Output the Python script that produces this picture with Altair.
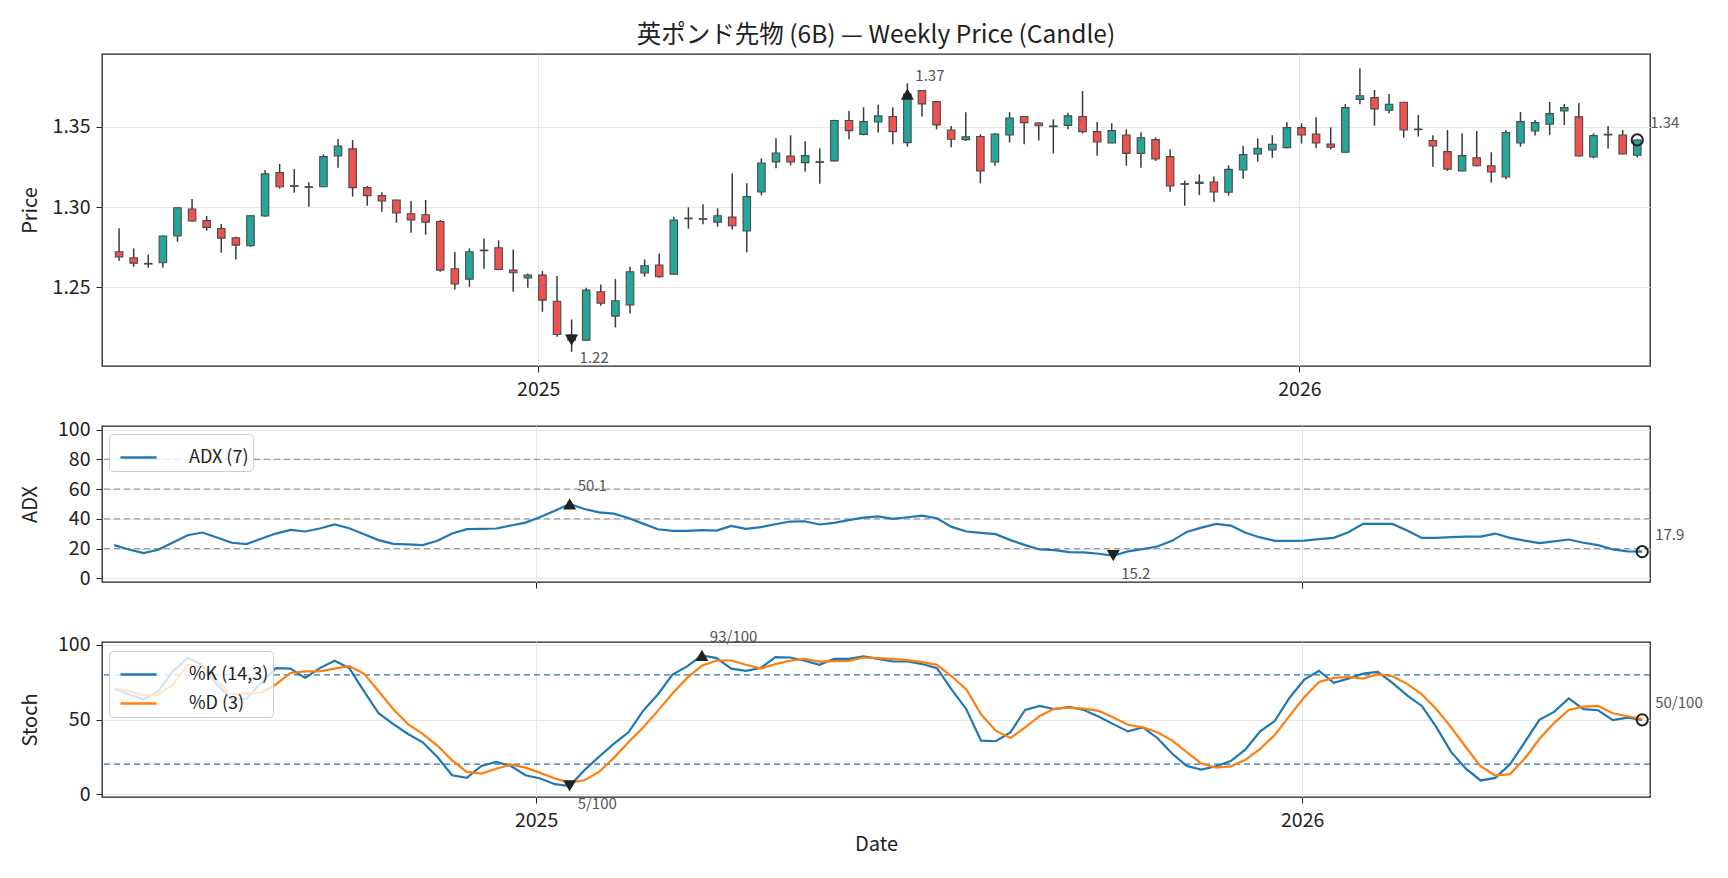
import altair as alt
import pandas as pd
import numpy as np

FONT = "Noto Sans CJK JP"

# ---------------- data ----------------
start_date = "2024-06-14"
n_weeks = 105

opens = [
    1.2721, 1.2683, 1.2648, 1.2652, 1.2819, 1.2988, 1.2915, 1.2865, 1.2808, 1.2758,
    1.2944, 1.3215, 1.3133, 1.3127, 1.3127, 1.3319, 1.3363, 1.3121, 1.3071, 1.3044,
    1.2958, 1.2952, 1.2910, 1.2615, 1.2550, 1.2727, 1.2746, 1.2606, 1.2558, 1.2575,
    1.2412, 1.2200, 1.2169, 1.2471, 1.2319, 1.2388, 1.2588, 1.2638, 1.2581, 1.2927,
    1.2923, 1.2906, 1.2937, 1.2850, 1.3094, 1.3281, 1.3319, 1.3277, 1.3279, 1.3288,
    1.3540, 1.3454, 1.3531, 1.3565, 1.3402, 1.3727, 1.3658, 1.3481, 1.3421, 1.3440,
    1.3281, 1.3450, 1.3565, 1.3525, 1.3506, 1.3510, 1.3565, 1.3471, 1.3400, 1.3450,
    1.3335, 1.3421, 1.3315, 1.3146, 1.3148, 1.3156, 1.3092, 1.3231, 1.3331, 1.3356,
    1.3371, 1.3496, 1.3456, 1.3394, 1.3342, 1.3672, 1.3683, 1.3604, 1.3654, 1.3487,
    1.3415, 1.3346, 1.3225, 1.3308, 1.3258, 1.3188, 1.3400, 1.3475, 1.3517, 1.3600,
    1.3563, 1.3313, 1.3454, 1.3450, 1.3323,
]
highs = [
    1.2867, 1.2742, 1.2704, 1.2823, 1.2998, 1.3050, 1.2944, 1.2894, 1.2815, 1.2950,
    1.3229, 1.3269, 1.3237, 1.3154, 1.3329, 1.3425, 1.3419, 1.3131, 1.3092, 1.3046,
    1.3038, 1.3044, 1.2919, 1.2719, 1.2742, 1.2804, 1.2792, 1.2735, 1.2585, 1.2600,
    1.2569, 1.2298, 1.2496, 1.2517, 1.2550, 1.2627, 1.2673, 1.2710, 1.2940, 1.2998,
    1.3017, 1.2992, 1.3210, 1.3148, 1.3304, 1.3429, 1.3448, 1.3410, 1.3367, 1.3545,
    1.3600, 1.3623, 1.3638, 1.3623, 1.3773, 1.3730, 1.3660, 1.3506, 1.3592, 1.3454,
    1.3460, 1.3592, 1.3567, 1.3529, 1.3548, 1.3588, 1.3725, 1.3531, 1.3523, 1.3485,
    1.3467, 1.3435, 1.3360, 1.3165, 1.3204, 1.3190, 1.3260, 1.3381, 1.3429, 1.3448,
    1.3529, 1.3523, 1.3560, 1.3498, 1.3642, 1.3867, 1.3731, 1.3706, 1.3656, 1.3575,
    1.3448, 1.3481, 1.3460, 1.3475, 1.3342, 1.3481, 1.3594, 1.3544, 1.3656, 1.3642,
    1.3650, 1.3460, 1.3506, 1.3481, 1.3425,
]
lows = [
    1.2665, 1.2627, 1.2621, 1.2621, 1.2783, 1.2908, 1.2852, 1.2715, 1.2673, 1.2752,
    1.2940, 1.3115, 1.3090, 1.3002, 1.3125, 1.3246, 1.3065, 1.3008, 1.2971, 1.2902,
    1.2840, 1.2827, 1.2596, 1.2485, 1.2502, 1.2615, 1.2606, 1.2471, 1.2496, 1.2346,
    1.2190, 1.2096, 1.2163, 1.2383, 1.2248, 1.2335, 1.2565, 1.2558, 1.2578, 1.2865,
    1.2892, 1.2877, 1.2860, 1.2717, 1.3073, 1.3242, 1.3260, 1.3221, 1.3146, 1.3285,
    1.3423, 1.3448, 1.3465, 1.3392, 1.3377, 1.3565, 1.3485, 1.3373, 1.3413, 1.3148,
    1.3258, 1.3404, 1.3392, 1.3415, 1.3335, 1.3485, 1.3460, 1.3321, 1.3398, 1.3258,
    1.3246, 1.3288, 1.3096, 1.3008, 1.3075, 1.3031, 1.3071, 1.3177, 1.3283, 1.3308,
    1.3367, 1.3396, 1.3367, 1.3360, 1.3340, 1.3642, 1.3508, 1.3585, 1.3433, 1.3440,
    1.3252, 1.3225, 1.3223, 1.3254, 1.3152, 1.3173, 1.3377, 1.3446, 1.3450, 1.3512,
    1.3317, 1.3304, 1.3365, 1.3329, 1.3310,
]
closes = [
    1.2688, 1.2650, 1.2644, 1.2819, 1.2996, 1.2913, 1.2873, 1.2806, 1.2762, 1.2946,
    1.3208, 1.3127, 1.3129, 1.3123, 1.3315, 1.3381, 1.3121, 1.3071, 1.3038, 1.2963,
    1.2919, 1.2906, 1.2606, 1.2519, 1.2721, 1.2731, 1.2610, 1.2590, 1.2575, 1.2419,
    1.2204, 1.2169, 1.2481, 1.2400, 1.2415, 1.2596, 1.2633, 1.2565, 1.2919, 1.2931,
    1.2927, 1.2946, 1.2883, 1.3065, 1.3275, 1.3337, 1.3281, 1.3321, 1.3283, 1.3540,
    1.3477, 1.3533, 1.3569, 1.3471, 1.3705, 1.3644, 1.3513, 1.3423, 1.3438, 1.3225,
    1.3456, 1.3556, 1.3527, 1.3508, 1.3502, 1.3569, 1.3471, 1.3406, 1.3477, 1.3335,
    1.3433, 1.3300, 1.3131, 1.3142, 1.3156, 1.3094, 1.3235, 1.3327, 1.3367, 1.3392,
    1.3496, 1.3450, 1.3400, 1.3373, 1.3621, 1.3695, 1.3613, 1.3642, 1.3481, 1.3483,
    1.3381, 1.3237, 1.3321, 1.3258, 1.3219, 1.3465, 1.3533, 1.3527, 1.3583, 1.3621,
    1.3319, 1.3446, 1.3450, 1.3331, 1.3419,
]
adx_values = [
    22.3, 19.4, 16.9, 19.2, 24.1, 29.0, 30.8, 27.5, 23.9, 23.0,
    26.6, 30.1, 32.6, 31.5, 33.5, 36.2, 33.7, 29.7, 25.7, 23.2,
    22.8, 22.3, 25.2, 30.1, 33.1, 33.3, 33.5, 35.5, 37.5, 41.3,
    45.5, 50.1, 46.6, 44.4, 43.5, 40.6, 36.8, 33.0, 31.9, 31.9,
    32.4, 32.1, 35.3, 33.3, 34.4, 36.4, 38.2, 38.4, 36.2, 37.3,
    39.1, 40.8, 41.7, 40.0, 41.1, 42.2, 40.4, 34.6, 31.5, 30.6,
    29.7, 25.7, 22.3, 19.4, 19.0, 17.6, 17.4, 16.5, 15.2, 18.1,
    19.6, 21.4, 25.2, 31.2, 34.1, 36.6, 35.5, 30.6, 27.5, 25.2,
    25.2, 25.4, 26.3, 27.2, 31.0, 36.6, 36.6, 36.6, 32.1, 27.2,
    27.2, 27.7, 28.1, 28.1, 30.1, 27.2, 25.4, 23.7, 24.8, 26.1,
    23.9, 22.3, 19.4, 18.1, 17.9,
]
stoch_k = [
    70.6, 66.8, 63.5, 69.0, 82.3, 91.2, 86.7, 73.5, 63.5, 63.9,
    74.6, 84.5, 84.1, 77.9, 84.5, 89.4, 84.5, 69.0, 54.2, 46.9,
    40.3, 34.7, 24.8, 12.6, 10.8, 18.8, 21.5, 18.8, 12.6, 10.4,
    6.6, 5.4, 16.0, 25.0, 33.6, 41.4, 55.8, 66.8, 80.1, 85.6,
    93.0, 91.2, 84.1, 82.7, 84.5, 91.8, 91.6, 89.4, 86.7, 90.7,
    90.7, 92.4, 90.7, 88.9, 88.9, 87.2, 84.5, 70.1, 56.9, 35.8,
    35.4, 41.4, 56.4, 59.1, 56.9, 58.4, 56.4, 52.0, 46.9, 42.0,
    44.7, 37.6, 27.2, 18.8, 16.4, 18.6, 22.1, 29.9, 42.0, 49.1,
    64.6, 76.8, 82.7, 74.6, 77.4, 80.8, 81.9, 74.6, 66.2, 59.1,
    44.7, 28.1, 17.0, 9.1, 10.8, 19.9, 34.7, 49.8, 55.1, 64.2,
    56.9, 56.2, 49.6, 51.3, 49.8,
]
stoch_d = [
    70.8, 69.0, 66.2, 66.8, 73.5, 86.7, 85.2, 75.7, 66.8, 67.3,
    67.9, 73.5, 81.2, 82.3, 82.3, 84.1, 85.8, 80.8, 69.0, 56.9,
    46.9, 40.3, 32.5, 22.6, 14.8, 13.7, 17.0, 19.7, 17.7, 14.2,
    10.4, 7.7, 9.2, 14.8, 24.1, 34.7, 44.7, 55.8, 67.5, 77.9,
    86.1, 89.6, 89.6, 86.7, 84.1, 87.2, 89.4, 90.7, 88.9, 89.2,
    89.4, 91.6, 91.2, 90.7, 89.8, 88.5, 86.7, 79.0, 70.1, 53.5,
    42.5, 37.6, 44.7, 52.4, 57.3, 58.0, 57.3, 55.8, 51.3, 46.5,
    44.7, 41.4, 36.0, 28.1, 20.4, 17.7, 18.6, 23.0, 30.3, 39.8,
    52.4, 65.0, 75.2, 77.9, 78.5, 77.4, 80.5, 79.0, 73.9, 66.8,
    56.9, 44.7, 31.4, 18.6, 12.4, 13.3, 23.7, 36.9, 47.6, 56.4,
    58.6, 59.1, 54.2, 52.2, 50.2,
]
price_ticks = [1.25, 1.30, 1.35]
adx_ticks = [0, 20, 40, 60, 80, 100]
adx_levels = [20, 40, 60, 80]
stoch_ticks = [0, 50, 100]
stoch_levels = [20, 80]
title_text = "英ポンド先物 (6B) — Weekly Price (Candle)"

# ---------------- frames ----------------
dates = pd.date_range(start_date, periods=n_weeks, freq="7D")
df = pd.DataFrame({"date": dates, "open": opens, "high": highs,
                   "low": lows, "close": closes})
df["dir"] = np.where(df["close"] >= df["open"], "up", "down")
df["body_lo"] = df[["open", "close"]].min(axis=1)
df["body_hi"] = df[["open", "close"]].max(axis=1)

adx_df = pd.DataFrame({"date": dates, "value": adx_values, "series": "ADX (7)"})
k_df = pd.DataFrame({"date": dates, "value": stoch_k, "series": "%K (14,3)"})
d_df = pd.DataFrame({"date": dates, "value": stoch_d, "series": "%D (3)"})


def extremes(dates_s, vals, fmt):
    vals = pd.Series(vals)
    i_hi, i_lo, i_last = int(vals.idxmax()), int(vals.idxmin()), len(vals) - 1
    rows = []
    for kind, i in (("hi", i_hi), ("lo", i_lo), ("last", i_last)):
        rows.append({"date": dates_s[i], "value": float(vals[i]), "kind": kind,
                     "label": fmt(float(vals[i]))})
    return pd.DataFrame(rows)


price_ext = extremes(dates, closes, lambda v: f"{v:.2f}")
adx_ext = extremes(dates, adx_values, lambda v: f"{v:.1f}")
stoch_ext = extremes(dates, stoch_k, lambda v: f"{v:.0f}/100")

# ---------------- scales / axes ----------------
W = 1548
xdom = [alt.DateTime(year=2024, month=6, date=8, hours=5),
        alt.DateTime(year=2026, month=6, date=15, hours=17)]
xticks = [alt.DateTime(year=2025, month=1, date=1),
          alt.DateTime(year=2026, month=1, date=1)]


def xenc(labels=True, title=None):
    return alt.X("date:T", scale=alt.Scale(domain=xdom),
                 axis=alt.Axis(values=xticks, format="%Y", labels=labels,
                               title=title, grid=True, tickSize=6,
                               labelPadding=8, titlePadding=5, domain=False))


YAX = dict(grid=True, tickSize=6, labelPadding=6, domain=False,
           minExtent=52, maxExtent=52, titlePadding=10)

lo_p, hi_p = min(lows), max(highs)
pad = 0.05 * (hi_p - lo_p)
price_scale = alt.Scale(domain=[lo_p - pad, hi_p + pad], nice=False, zero=False)


def yenc(field, scale, ticks, title, fmt=None):
    kw = dict(values=ticks, title=title, **YAX)
    if fmt:
        kw["format"] = fmt
    return alt.Y(f"{field}:Q", scale=scale, axis=alt.Axis(**kw))


def annotations(ext, y, xe):
    layers = []
    base = alt.Chart(ext)
    hi = base.transform_filter("datum.kind == 'hi'")
    lo = base.transform_filter("datum.kind == 'lo'")
    last = base.transform_filter("datum.kind == 'last'")
    layers.append(hi.mark_point(shape="triangle-up", filled=True, size=170,
                                color="#222", opacity=1).encode(x=xe, y=y))
    layers.append(lo.mark_point(shape="triangle-down", filled=True, size=170,
                                color="#222", opacity=1).encode(x=xe, y=y))
    layers.append(last.mark_point(shape="circle", filled=False, size=125,
                                  strokeWidth=2, color="#222", opacity=1).encode(x=xe, y=y))
    tk = dict(align="left", baseline="middle", font=FONT, fontSize=15, color="#555")
    layers.append(hi.mark_text(dx=8, dy=-18, **tk).encode(x=xe, y=y, text="label:N"))
    layers.append(lo.mark_text(dx=8, dy=18, **tk).encode(x=xe, y=y, text="label:N"))
    layers.append(last.mark_text(dx=13, dy=-17, **tk).encode(x=xe, y=y, text="label:N"))
    return layers


# ---------------- price panel ----------------
xe_top = xenc(labels=True)
wicks = alt.Chart(df).mark_rule(color="#3a3a3a", strokeWidth=1.5).encode(
    x=xe_top,
    y=yenc("low", price_scale, price_ticks, "Price", ".2f"),
    y2="high:Q",
)
bodies = alt.Chart(df).mark_bar(size=7.5, stroke="#4a4a4a", strokeWidth=1.1).encode(
    x=xe_top,
    y=yenc("body_lo", price_scale, price_ticks, "Price", ".2f"),
    y2="body_hi:Q",
    color=alt.Color("dir:N", scale=alt.Scale(domain=["up", "down"],
                                             range=["#26a69a", "#ef5350"]),
                    legend=None),
)
price_y = yenc("value", price_scale, price_ticks, "Price", ".2f")
top = alt.layer(wicks, bodies, *annotations(price_ext, price_y, xe_top)).properties(
    width=W, height=312,
    title=alt.TitleParams(title_text, fontSize=24.5, font=FONT, fontWeight="normal",
                          color="#222", anchor="middle", offset=6),
)

# ---------------- ADX panel ----------------
adx_scale = alt.Scale(domain=[-2.5, 102.5], nice=False, zero=False)
xe_mid = xenc(labels=False)
adx_y = yenc("value", adx_scale, adx_ticks, "ADX")
adx_rules = alt.Chart(pd.DataFrame({"value": adx_levels})).mark_rule(
    color="#999999", strokeDash=[6, 4], strokeWidth=1.3).encode(y=adx_y)
LEG = dict(title=None, orient="none", fillColor="rgba(255,255,255,0.8)",
           strokeColor="#cccccc", cornerRadius=4, padding=4,
           symbolType="stroke", symbolSize=1300, symbolStrokeWidth=2.5,
           symbolOffset=6, labelFont=FONT, labelFontSize=18, labelColor="#222",
           labelOffset=31, rowPadding=0)
adx_line = alt.Chart(adx_df).mark_line(strokeWidth=2.2).encode(
    x=xe_mid, y=adx_y,
    color=alt.Color("series:N", scale=alt.Scale(domain=["ADX (7)"], range=["#1f77b4"]),
                    legend=alt.Legend(legendX=7, legendY=8, **LEG)),
)
adx = alt.layer(adx_rules, adx_line, *annotations(adx_ext, adx_y, xe_mid)).properties(
    width=W, height=156)

# ---------------- Stoch panel ----------------
st_scale = alt.Scale(domain=[-2, 102], nice=False, zero=False)
xe_bot = xenc(labels=True, title="Date")
st_y = yenc("value", st_scale, stoch_ticks, "Stoch")
st_rules = alt.Chart(pd.DataFrame({"value": stoch_levels})).mark_rule(
    color="#1f77b4", strokeDash=[6, 4], strokeWidth=1.3).encode(y=st_y)
st_color = alt.Color("series:N",
                     scale=alt.Scale(domain=["%K (14,3)", "%D (3)"],
                                     range=["#1f77b4", "#ff7f0e"]),
                     legend=alt.Legend(legendX=7, legendY=9, **LEG))
k_line = alt.Chart(k_df).mark_line(strokeWidth=2.2).encode(x=xe_bot, y=st_y, color=st_color)
d_line = alt.Chart(d_df).mark_line(strokeWidth=2.2).encode(x=xe_bot, y=st_y, color=st_color)
stoch = alt.layer(st_rules, k_line, d_line, *annotations(stoch_ext, st_y, xe_bot)).properties(
    width=W, height=155)

inner = alt.vconcat(top, adx, spacing=19).resolve_scale(color="independent").resolve_legend(color="independent")
chart = alt.vconcat(inner, stoch, spacing=39).resolve_scale(color="independent").resolve_legend(color="independent")

chart = chart.properties(
    padding={"left": 19, "top": 21, "right": 5, "bottom": 5},
    background="white",
).configure(font=FONT).configure_view(
    stroke="#222", strokeWidth=1.3
).configure_axis(
    labelFont=FONT, titleFont=FONT, labelFontSize=19.5, titleFontSize=20,
    titleFontWeight="normal", labelColor="#222", titleColor="#222",
    tickColor="#222", gridColor="#e6e6e6", gridWidth=1,
)

chart.save("out.html", embed_options={"renderer": "svg", "actions": False})
